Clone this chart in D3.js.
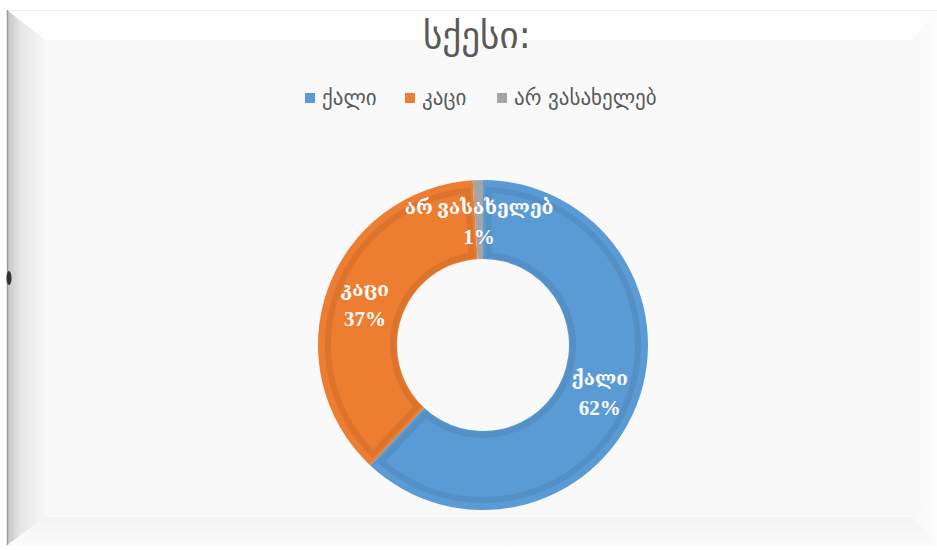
<!DOCTYPE html>
<html>
<head>
<meta charset="utf-8">
<script src="https://cdn.jsdelivr.net/npm/d3@7"></script>
<style>
  html, body { margin: 0; padding: 0; background: #ffffff; }
  svg { display: block; }
</style>
</head>
<body>
<svg id="chart" width="937" height="550"></svg>
<script>
// Respondent gender breakdown
const categories = ["ქალი", "კაცი", "არ ვასახელებ"];
const shares = [62, 37, 1];
const colors = ["#5b9bd5", "#ed7d31", "#a5a5a5"];
const titleText = "სქესი:";

const W = 937, H = 550;
const svg = d3.select("#chart");
const defs = svg.append("defs");

// ---- bevelled chart frame ----
const outer = { x0: 7, y0: 10, x1: 937, y1: 545 };
const inner = { x0: 45, y0: 40, x1: 912, y1: 517 };

const gLeft = defs.append("linearGradient").attr("id", "gLeft")
  .attr("x1", 0).attr("x2", 1).attr("y1", 0).attr("y2", 0);
gLeft.append("stop").attr("offset", 0).attr("stop-color", "#c4c4c4");
gLeft.append("stop").attr("offset", 0.35).attr("stop-color", "#e6e6e6");
gLeft.append("stop").attr("offset", 1).attr("stop-color", "#f6f6f6");

const gBottom = defs.append("linearGradient").attr("id", "gBottom")
  .attr("x1", 0).attr("x2", 0).attr("y1", 0).attr("y2", 1);
gBottom.append("stop").attr("offset", 0).attr("stop-color", "#f3f3f3");
gBottom.append("stop").attr("offset", 1).attr("stop-color", "#fbfbfb");

const gRight = defs.append("linearGradient").attr("id", "gRight")
  .attr("x1", 0).attr("x2", 1).attr("y1", 0).attr("y2", 0);
gRight.append("stop").attr("offset", 0).attr("stop-color", "#f8f8f8");
gRight.append("stop").attr("offset", 1).attr("stop-color", "#fdfdfd");

const poly = pts => pts.map(p => p.join(",")).join(" ");
const frame = svg.append("g");
// top bevel
frame.append("polygon").attr("fill", "#fefefe")
  .attr("points", poly([[outer.x0, outer.y0], [outer.x1, outer.y0], [inner.x1, inner.y0], [inner.x0, inner.y0]]));
// right bevel
frame.append("polygon").attr("fill", "url(#gRight)")
  .attr("points", poly([[outer.x1, outer.y0], [outer.x1, outer.y1], [inner.x1, inner.y1], [inner.x1, inner.y0]]));
// bottom bevel
frame.append("polygon").attr("fill", "url(#gBottom)")
  .attr("points", poly([[outer.x0, outer.y1], [outer.x1, outer.y1], [inner.x1, inner.y1], [inner.x0, inner.y1]]));
// left bevel
frame.append("polygon").attr("fill", "url(#gLeft)")
  .attr("points", poly([[outer.x0, outer.y0], [inner.x0, inner.y0], [inner.x0, inner.y1], [outer.x0, outer.y1]]));
// face
frame.append("rect").attr("x", inner.x0).attr("y", inner.y0)
  .attr("width", inner.x1 - inner.x0).attr("height", inner.y1 - inner.y0)
  .attr("fill", "#f9f9f9");
// edge lines
frame.append("line").attr("x1", outer.x0).attr("x2", outer.x1)
  .attr("y1", outer.y0 + 0.5).attr("y2", outer.y0 + 0.5)
  .attr("stroke", "#ececec").attr("stroke-width", 1);
frame.append("line").attr("x1", outer.x0 + 0.5).attr("x2", outer.x0 + 0.5)
  .attr("y1", outer.y0).attr("y2", outer.y1)
  .attr("stroke", "#9a9a9a").attr("stroke-width", 1.5);
// small resize handle on the left edge
frame.append("ellipse").attr("cx", 9).attr("cy", 278).attr("rx", 2.5).attr("ry", 7)
  .attr("fill", "#333");

// ---- title ----
svg.append("text")
  .attr("x", 477).attr("y", 48)
  .attr("text-anchor", "middle")
  .attr("font-family", "DejaVu Sans, sans-serif")
  .attr("font-size", 37)
  .attr("fill", "#595959")
  .text(titleText);

// ---- legend ----
const legendFont = "DejaVu Sans, sans-serif";
const legend = svg.append("g").attr("transform", "translate(305,93)");
const legendX = [0, 100, 192];
categories.forEach((c, i) => {
  const g = legend.append("g").attr("transform", `translate(${legendX[i]},0)`);
  g.append("rect").attr("width", 10).attr("height", 10).attr("fill", colors[i]);
  g.append("text").attr("x", 17).attr("y", 12)
    .attr("font-family", legendFont).attr("font-size", 21)
    .attr("fill", "#595959").text(c);
});

// ---- donut ----
const cx = 483, cy = 345, rOuter = 165, rInner = 86;
const pie = d3.pie().sort(null).value(d => d);
const arcs = pie(shares);
const arc = d3.arc().innerRadius(rInner).outerRadius(rOuter);
const bandArc = d3.arc().innerRadius(rInner + 4).outerRadius(rOuter - 10)
  .padRadius((rInner + rOuter) / 2).padAngle(0.09);

const donut = svg.append("g").attr("transform", `translate(${cx},${cy})`);
donut.selectAll("path.slice").data(arcs).enter().append("path")
  .attr("class", "slice")
  .attr("d", arc)
  .attr("fill", (d, i) => colors[i]);

// darker inner bevel band on each slice
donut.selectAll("path.band").data(arcs.filter(d => d.endAngle - d.startAngle > 0.2)).enter()
  .append("path")
  .attr("class", "band")
  .attr("d", bandArc)
  .attr("fill", "none")
  .attr("stroke", d => d3.color(colors[d.index]).darker(0.35))
  .attr("stroke-opacity", 0.6)
  .attr("stroke-width", 6);

// data labels: name + percentage, at each slice's centroid
const labelFont = "Liberation Serif, DejaVu Serif, serif";
const labels = donut.selectAll("g.lbl").data(arcs).enter().append("g")
  .attr("class", "lbl")
  .attr("transform", d => {
    const [x, y] = arc.centroid(d);
    return `translate(${x},${y})`;
  });
labels.append("text")
  .attr("y", -6)
  .attr("text-anchor", "middle")
  .attr("font-family", labelFont).attr("font-weight", "bold")
  .attr("font-size", 19).attr("fill", "#ffffff")
  .text(d => categories[d.index]);
labels.append("text")
  .attr("y", 24)
  .attr("text-anchor", "middle")
  .attr("font-family", labelFont).attr("font-weight", "bold")
  .attr("font-size", 21).attr("fill", "#ffffff")
  .text(d => d.data + "%");
</script>
</body>
</html>
